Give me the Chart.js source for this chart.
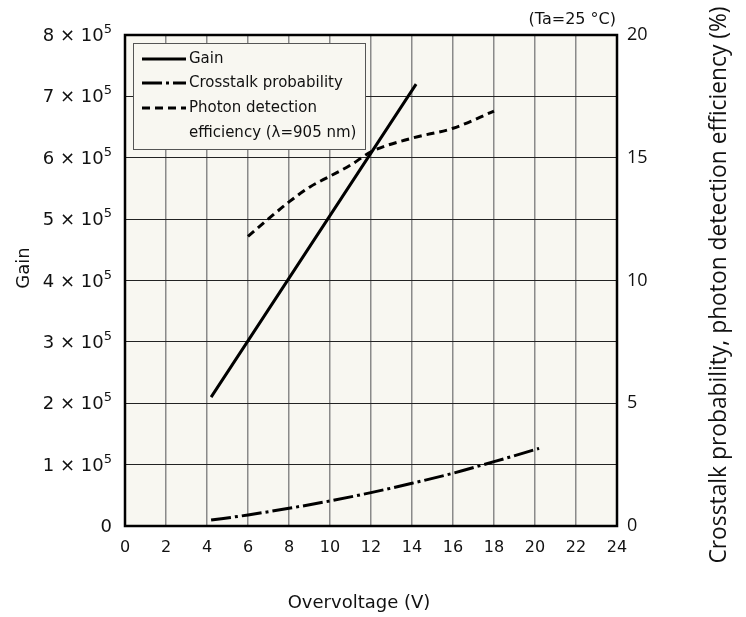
<!DOCTYPE html>
<html>
<head>
<meta charset="utf-8">
<script src="https://cdn.jsdelivr.net/npm/chart.js@4/dist/chart.umd.min.js"></script>
<style>
  body { margin: 0; background: #fff; }
  #wrap { width: 746px; height: 617px; }
</style>
</head>
<body>
<div id="wrap"><canvas id="grafico" width="746" height="617"></canvas></div>
<script>
// values
const voltGain = [4.2, 14.2];
const gain = [2.1e5, 7.2e5];

const voltCross = [4.2, 6, 8, 10, 12, 14, 16, 18, 20.2];
const crosstalk = [0.24, 0.45, 0.72, 1.02, 1.36, 1.74, 2.15, 2.62, 3.16];

const voltPde = [6, 8, 9, 10, 11, 12, 14, 16, 18];
const pde = [11.8, 13.2, 13.8, 14.25, 14.7, 15.24, 15.8, 16.2, 16.9];

const xTicks = [0, 2, 4, 6, 8, 10, 12, 14, 16, 18, 20, 22, 24];
const gainTicks = [0, 1e5, 2e5, 3e5, 4e5, 5e5, 6e5, 7e5, 8e5];
const pctTicks = [0, 5, 10, 15, 20];

const legendNames = ["Gain", "Crosstalk probability", "Photon detection", "efficiency (λ=905 nm)"];
const rightTitle = "Crosstalk probability, photon detection efficiency (%)";

const canvas = document.querySelector("#grafico");
const font = "DejaVu Sans";
const plotBg = "#f8f7f1";

function pts(xs, ys) {
  return xs.map((x, i) => ({ x: x, y: ys[i] }));
}

const extras = {
  id: "extras",
  beforeDraw(chart) {
    const a = chart.chartArea;
    const ctx = chart.ctx;
    ctx.save();
    ctx.fillStyle = plotBg;
    ctx.fillRect(a.left, a.top, a.right - a.left, a.bottom - a.top);
    ctx.restore();
  },
  afterDraw(chart) {
    const a = chart.chartArea;
    const ctx = chart.ctx;
    ctx.save();
    // frame
    ctx.strokeStyle = "#000";
    ctx.lineWidth = 2.5;
    ctx.strokeRect(a.left, a.top, a.right - a.left, a.bottom - a.top);

    // gain tick labels with a real superscript
    const ys = chart.scales.y;
    ctx.fillStyle = "#111";
    ctx.textBaseline = "alphabetic";
    ctx.textAlign = "right";
    gainTicks.forEach((v) => {
      const py = ys.getPixelForValue(v);
      if (v === 0) {
        ctx.font = "18px " + font;
        ctx.fillText("0", 112, py + 6);
        return;
      }
      ctx.font = "13px " + font;
      const supW = ctx.measureText("5").width;
      ctx.fillText("5", 112, py - 2);
      ctx.font = "18px " + font;
      ctx.fillText(v / 1e5 + " × 10", 112 - supW, py + 6);
    });

    // legend box
    ctx.fillStyle = plotBg;
    ctx.fillRect(133, 43, 232, 106);
    ctx.strokeStyle = "#555";
    ctx.lineWidth = 1;
    ctx.strokeRect(133.5, 43.5, 232, 106);

    const dashes = [[], [20, 4, 3, 4], [8, 5]];
    const rows = [59, 83, 108, 133];
    ctx.strokeStyle = "#000";
    ctx.lineWidth = 3;
    for (let i = 0; i < 3; i++) {
      ctx.setLineDash(dashes[i]);
      ctx.beginPath();
      ctx.moveTo(142, rows[i]);
      ctx.lineTo(186, rows[i]);
      ctx.stroke();
    }
    ctx.setLineDash([]);
    ctx.fillStyle = "#111";
    ctx.font = "15px " + font;
    ctx.textBaseline = "middle";
    ctx.textAlign = "left";
    legendNames.forEach((t, i) => ctx.fillText(t, 189, rows[i]));

    // condition note
    ctx.textAlign = "right";
    ctx.font = "16px " + font;
    ctx.fillText("(Ta=25 °C)", 616, 20);

    // axis titles
    ctx.textAlign = "center";
    ctx.font = "18px " + font;
    ctx.fillText("Overvoltage (V)", 359, 603);

    ctx.save();
    ctx.translate(24, 268);
    ctx.rotate(-Math.PI / 2);
    ctx.fillText("Gain", 0, 0);
    ctx.restore();

    ctx.save();
    ctx.translate(720, 285);
    ctx.rotate(-Math.PI / 2);
    ctx.font = "18px 'Open Sans'";
    const w = ctx.measureText(rightTitle).width;
    ctx.font = (18 * 556 / w).toFixed(1) + "px 'Open Sans'";
    ctx.fillText(rightTitle, 0, 0);
    ctx.restore();
    ctx.restore();
  }
};

const lineStyle = {
  borderColor: "#000",
  backgroundColor: "#000",
  borderWidth: 3,
  pointRadius: 0,
  showLine: true,
  fill: false,
  cubicInterpolationMode: "monotone"
};

new Chart(canvas, {
  type: "scatter",
  data: {
    datasets: [
      { ...lineStyle, label: "Gain", data: pts(voltGain, gain), yAxisID: "y" },
      { ...lineStyle, label: "Crosstalk probability", data: pts(voltCross, crosstalk), yAxisID: "y1", borderDash: [20, 4, 3, 4] },
      { ...lineStyle, label: "Photon detection efficiency", data: pts(voltPde, pde), yAxisID: "y1", borderDash: [8, 5] }
    ]
  },
  options: {
    responsive: false,
    animation: false,
    devicePixelRatio: 1,
    layout: { padding: { top: 35, left: 0, right: 0, bottom: 0 } },
    plugins: { legend: { display: false }, tooltip: { enabled: false } },
    scales: {
      x: {
        type: "linear",
        min: 0,
        max: 24,
        afterFit: (s) => { s.height = 91; },
        afterBuildTicks: (s) => { s.ticks = xTicks.map((v) => ({ value: v })); },
        ticks: { padding: 12, color: "#111", font: { family: font, size: 16 }, maxRotation: 0 },
        grid: { color: "#8a8a8a", lineWidth: 1.5, drawTicks: false },
        border: { display: false }
      },
      y: {
        position: "left",
        min: 0,
        max: 8e5,
        afterFit: (s) => { s.width = 125; },
        afterBuildTicks: (s) => { s.ticks = gainTicks.map((v) => ({ value: v })); },
        ticks: { display: false },
        grid: { color: "#222", lineWidth: 1, drawTicks: false },
        border: { display: false }
      },
      y1: {
        position: "right",
        min: 0,
        max: 20,
        afterFit: (s) => { s.width = 129; },
        afterBuildTicks: (s) => { s.ticks = pctTicks.map((v) => ({ value: v })); },
        ticks: { padding: 10, color: "#111", font: { family: "'Open Sans'", size: 18 } },
        grid: { display: false, drawTicks: false },
        border: { display: false }
      }
    }
  },
  plugins: [extras]
});
</script>
</body>
</html>
